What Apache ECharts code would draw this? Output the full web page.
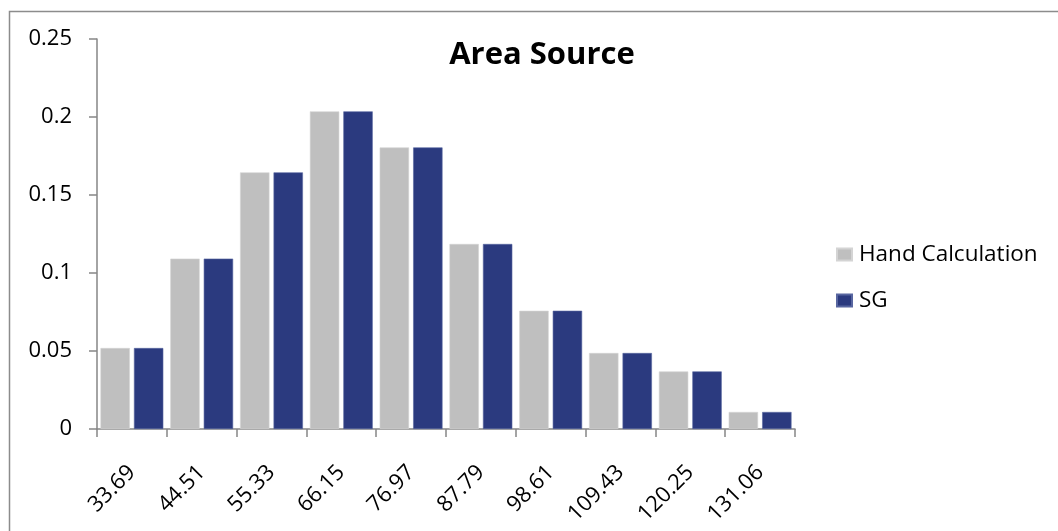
<!DOCTYPE html>
<html>
<head>
<meta charset="utf-8">
<script src="https://cdn.jsdelivr.net/npm/echarts@6/dist/echarts.min.js"></script>
<style>
  html, body { margin: 0; padding: 0; background: #fff; }
  #chart { width: 1058px; height: 531px; }
</style>
</head>
<body>
<div id="chart"></div>
<script>
// Bin centres of the distribution
const categories = ['33.69', '44.51', '55.33', '66.15', '76.97', '87.79', '98.61', '109.43', '120.25', '131.06'];
// Fraction of samples per bin
const handCalculation = [0.0519, 0.1092, 0.1645, 0.2036, 0.1805, 0.1186, 0.0758, 0.0487, 0.0369, 0.0109];
const sg = [0.0519, 0.1092, 0.1645, 0.2036, 0.1805, 0.1186, 0.0758, 0.0487, 0.0369, 0.0109];
const yTicks = { min: 0, max: 0.25, interval: 0.05 };

const FONT = '"Open Sans", "Noto Sans", sans-serif';
const GRAY = '#bfbfbf';
const NAVY = '#2b3a7f';
const AXIS = '#868686';

const chart = echarts.init(document.getElementById('chart'), null, { renderer: 'canvas' });

chart.setOption({
  animation: false,
  backgroundColor: '#fff',
  title: {
    text: 'Area Source',
    left: 537,
    top: 35,
    textAlign: 'center',
    textStyle: { fontFamily: FONT, fontSize: 31, fontWeight: 'bold', color: '#000' }
  },
  legend: {
    orient: 'vertical',
    left: 836,
    top: 243,
    padding: 0,
    itemWidth: 15,
    itemHeight: 12,
    itemGap: 23,
    icon: 'rect',
    textStyle: { fontFamily: FONT, fontSize: 22.5, color: '#000', padding: [0, 0, 0, 2] },
    data: ['Hand Calculation', 'SG']
  },
  grid: { left: 97, right: 263, top: 39, bottom: 102, containLabel: false },
  xAxis: {
    type: 'category',
    data: categories,
    axisLine: { lineStyle: { color: AXIS, width: 1.5 } },
    axisTick: { show: true, length: 8, lineStyle: { color: AXIS, width: 1.5 } },
    axisLabel: {
      rotate: 45,
      margin: 40,
      interval: 0,
      fontFamily: FONT,
      fontSize: 22,
      color: '#000'
    }
  },
  yAxis: {
    type: 'value',
    min: yTicks.min,
    max: yTicks.max,
    interval: yTicks.interval,
    axisLine: { show: true, lineStyle: { color: AXIS, width: 1.5 } },
    axisTick: { show: true, length: 8, lineStyle: { color: AXIS, width: 1.5 } },
    splitLine: { show: false },
    axisLabel: {
      margin: 25,
      fontFamily: FONT,
      fontSize: 22,
      color: '#000',
      formatter: v => String(Math.round(v * 100) / 100)
    }
  },
  series: [
    {
      name: 'Hand Calculation',
      type: 'bar',
      data: handCalculation,
      barCategoryGap: '10%',
      barGap: '14%',
      itemStyle: { color: GRAY, borderColor: '#d4d4d4', borderWidth: 0.6 }
    },
    {
      name: 'SG',
      type: 'bar',
      data: sg,
      barCategoryGap: '10%',
      barGap: '14%',
      itemStyle: { color: NAVY, borderColor: '#5866a0', borderWidth: 0.6 }
    }
  ],
  graphic: [
    {
      type: 'rect',
      left: 7,
      top: 9,
      shape: { width: 1100, height: 600 },
      style: { fill: 'none', stroke: '#8c8c8c', lineWidth: 1.5 },
      silent: true,
      z: 100
    }
  ]
});
</script>
</body>
</html>
